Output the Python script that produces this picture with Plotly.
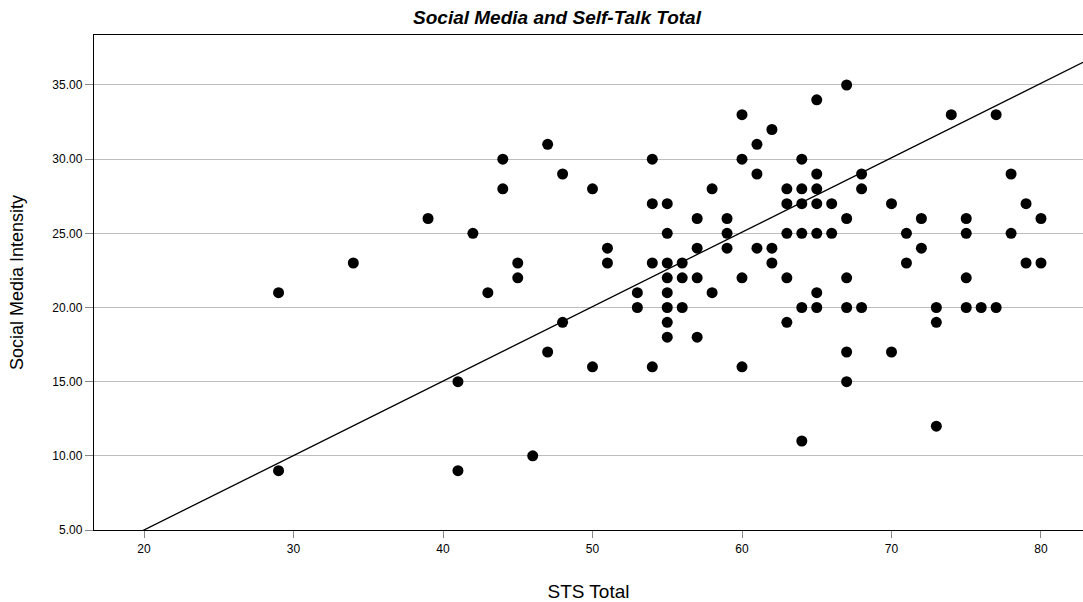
import plotly.graph_objects as go

# Data (STS Total -> list of Social Media Intensity values)
sts_groups = {
    29: [21, 9],
    34: [23],
    39: [26],
    41: [15, 9],
    42: [25],
    43: [21],
    44: [30, 28],
    45: [23, 22],
    46: [10],
    47: [31, 17],
    48: [29, 19],
    50: [28, 16],
    51: [24, 23],
    53: [21, 20],
    54: [30, 27, 23, 16],
    55: [27, 25, 23, 22, 21, 20, 19, 18],
    56: [23, 22, 20],
    57: [26, 24, 22, 18],
    58: [28, 21],
    59: [26, 25, 24],
    60: [33, 30, 22, 16],
    61: [31, 29, 24],
    62: [32, 24, 23],
    63: [28, 27, 25, 22, 19],
    64: [30, 28, 27, 25, 20, 11],
    65: [34, 29, 28, 27, 25, 21, 20],
    66: [27, 25],
    67: [35, 26, 22, 20, 17, 15],
    68: [29, 28, 20],
    70: [27, 17],
    71: [25, 23],
    72: [26, 24],
    73: [20, 19, 12],
    74: [33],
    75: [26, 25, 22, 20],
    76: [20],
    77: [33, 20],
    78: [29, 25],
    79: [27, 23],
    80: [26, 23],
}
sts_total = [x for x, ys in sts_groups.items() for _ in ys]
sm_intensity = [y for ys in sts_groups.values() for y in ys]

# Fit line as drawn in the reference
fit_slope = 0.502
fit_intercept = -5.04

x_ticks = [20, 30, 40, 50, 60, 70, 80]
y_ticks = [5, 10, 15, 20, 25, 30, 35]
x_range = [16.655, 82.81]
y_range = [5, 38.37]

line_x = [x_range[0], x_range[1]]
line_y = [fit_intercept + fit_slope * v for v in line_x]

fig = go.Figure()
fig.add_trace(go.Scatter(x=line_x, y=line_y, mode="lines",
                         line=dict(color="black", width=1.3),
                         hoverinfo="skip", showlegend=False))
fig.add_trace(go.Scatter(x=sts_total, y=sm_intensity, mode="markers",
                         marker=dict(color="black", size=11, line=dict(width=0)),
                         showlegend=False))

font_fam = "Liberation Sans, Arial, Helvetica, sans-serif"
W, H = 1083, 602
fig.update_layout(
    width=W, height=H,
    margin=dict(l=94, r=0, t=35, b=72, autoexpand=False),
    paper_bgcolor="white", plot_bgcolor="white",
    font=dict(family=font_fam, color="black"),
    title=dict(text="<b><i>Social Media and Self-Talk Total</i></b>",
               x=557 / W, xref="container", xanchor="center",
               y=1 - 17 / H, yref="container", yanchor="middle",
               font=dict(size=19, family=font_fam, color="black")),
    xaxis=dict(range=x_range, tickvals=x_ticks, ticks="outside", ticklen=7,
               tickcolor="#888", tickfont=dict(size=12),
               showline=True, linecolor="black", linewidth=1.4, mirror=True,
               showgrid=False, zeroline=False, automargin=False,
               title=dict(text="STS Total", font=dict(size=19), standoff=39)),
    yaxis=dict(range=y_range, tickvals=y_ticks, tickformat=".2f",
               ticks="outside", ticklen=8, tickcolor="#888",
               tickfont=dict(size=12),
               showline=True, linecolor="black", linewidth=1.4,
               showgrid=True, gridcolor="#bdbdbd", gridwidth=1,
               zeroline=False, automargin=False,
               title=dict(text="Social Media Intensity", font=dict(size=18), standoff=24)),
)
fig.write_html("out.html",
               config={"displayModeBar": False},
               post_script="document.body.style.margin='0';document.body.style.overflow='hidden';")
